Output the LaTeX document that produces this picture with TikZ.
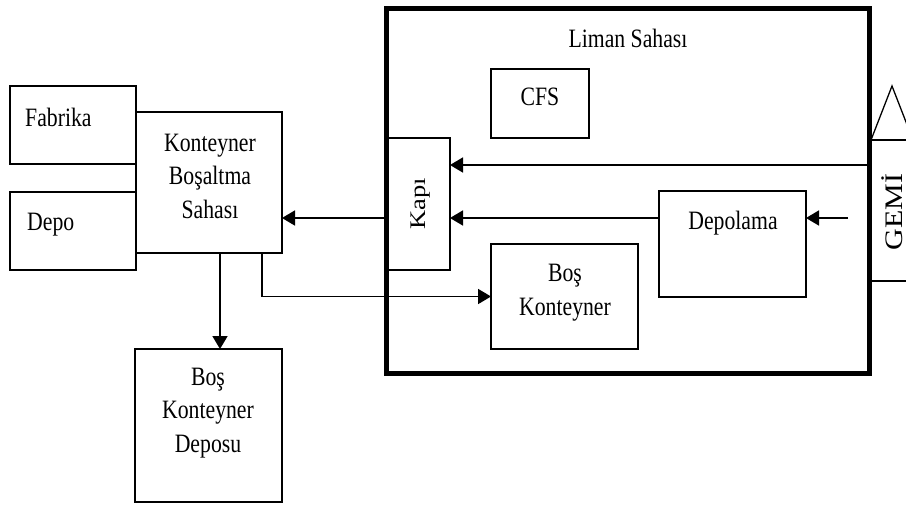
\documentclass[tikz,border=0pt]{standalone}
\usepackage{graphicx}
\usepackage{fontspec}
\setmainfont{Liberation Serif}[FakeStretch=0.82]
\newfontfamily\sidefont{Liberation Serif}
\usetikzlibrary{arrows.meta}

\begin{document}
\begin{tikzpicture}[x=1pt,y=-1pt,
  box/.style={draw, line width=1.3pt, rectangle, inner sep=0pt, outer sep=0pt, anchor=north west},
  portbox/.style={box, line width=5pt},
  txt/.style={inner sep=0pt, font=\fontsize{26.5}{33.5}\selectfont, align=center, anchor=base},
  sidetxt/.style={inner sep=0pt, rotate=90, anchor=base},
  arr/.style={line width=1.8pt, -{Triangle[length=13pt,width=15pt]}},
  link/.style={line width=1.3pt}]
\useasboundingbox (0,0) rectangle (906,504);

% outside the port
\node[box, minimum width=126pt, minimum height=78pt] (fab) at (10,86) {};
\node[box, minimum width=126pt, minimum height=78pt] (depo) at (10,192) {};
\node[box, minimum width=146pt, minimum height=141pt, fill=white] (kbs) at (136,112) {};
\node[box, minimum width=147pt, minimum height=153pt] (bkd) at (135,349) {};

% port area and its parts
\node[portbox, minimum width=483pt, minimum height=365pt] (port) at (386,8) {};
\node[box, minimum width=98pt, minimum height=69pt] (cfs) at (491,69) {};
\node[box, minimum width=63pt, minimum height=132pt] (kapi) at (387,138) {};
\node[box, minimum width=147pt, minimum height=106pt] (dep) at (659,191) {};
\node[box, minimum width=147pt, minimum height=105pt] (bk) at (491,244) {};

% labels (multi-line labels sit on the baseline of their last line)
\node[txt, anchor=base west] (tfab) at (25,126) {Fabrika};
\node[txt, anchor=base west] (tdepo) at (27,230) {Depo};
\node[txt] (tkbs) at (210,218) {Konteyner\\Boşaltma\\Sahası};
\node[txt] (tbkd) at (208,452) {Boş\\Konteyner\\Deposu};
\node[txt] (tport) at (628,47) {Liman Sahası};
\node[txt] (tcfs) at (540,105) {CFS};
\node[txt] (tdep) at (733,229) {Depolama};
\node[txt] (tbk) at (565,315) {Boş\\Konteyner};
\node[sidetxt] (tkapi) at (425,204) {\scalebox{1}[0.84]{\sidefont\fontsize{26.5}{30}\selectfont Kapı}};
\node[sidetxt] (tgemi) at (902,212) {\scalebox{1}[0.84]{\sidefont\fontsize{30}{34}\selectfont GEMİ}};

% ship at the quay
\begin{scope}
  \clip (0,0) rectangle (906,504);
  \draw[link] (871,140) -- (920,140);
  \draw[link] (871,281) -- (920,281);
  \draw[link, line join=miter] (871,140) -- (892,86) -- (913,140);
\end{scope}

% flows
\coordinate (yA) at (0,165);
\coordinate (yB) at (0,218);
\coordinate (xA) at (220,0);
\coordinate (xB) at (262,0);
\coordinate (shipin) at (848,218);
\draw[arr] (port.east |- yA) -- (kapi.east |- yA);
\draw[arr] (dep.west |- yB) -- (kapi.east |- yB);
\draw[arr] (shipin) -- (dep.east |- shipin);
\draw[arr] (kapi.west |- yB) -- (kbs.east |- yB);
\draw[arr] (kbs.south -| xA) -- (bkd.north -| xA);
\draw[arr] (kbs.south -| xB) |- (bk.west);
\end{tikzpicture}
\end{document}
